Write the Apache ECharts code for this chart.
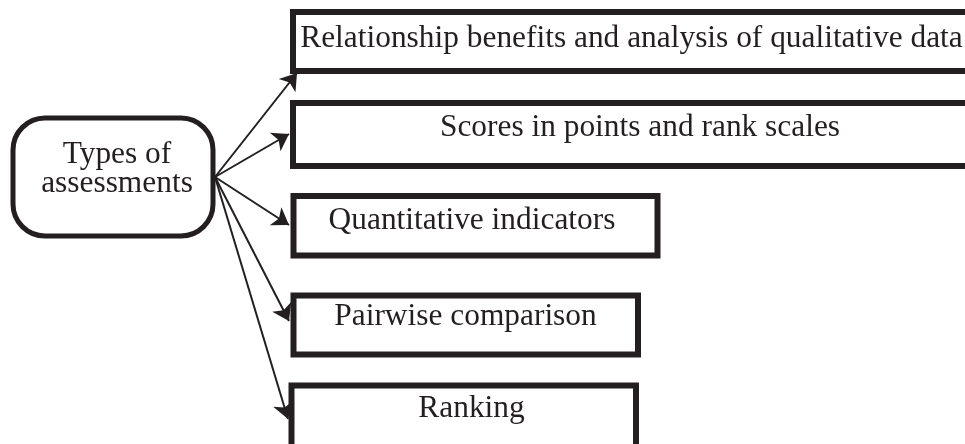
<!DOCTYPE html>
<html>
<head>
<meta charset="utf-8">
<script src="https://cdn.jsdelivr.net/npm/echarts@6/dist/echarts.min.js"></script>
<style>
html,body{margin:0;padding:0;background:#fff;}
#chart{width:965px;height:444px;}
</style>
</head>
<body>
<div id="chart"></div>
<script>
// ---- content ----
const rootLabel = 'Types of\nassessments';
const boxLabels = [
  'Relationship benefits and analysis of qualitative data',
  'Scores in points and rank scales',
  'Quantitative indicators',
  'Pairwise comparison',
  'Ranking'
];

// ---- layout (diagram units = pixels on a 965 x 444 canvas) ----
const rootBox = [13, 118, 213, 236];          // x0, y0, x1, y1
const boxLeft   = [293, 293, 293.5, 293.5, 291.5];
const boxRight  = [1010, 1010, 657.5, 638, 636];
const boxTop    = [12, 103, 196, 295.5, 385.5];
const boxBottom = [71, 166, 255.5, 354.5, 480];
const labelX    = [631.5, 640, 472, 465.5, 471.5];
const labelY    = [39, 128, 220.5, 317, 409];
const rootLabelPos = [117, 169];
const arrowFrom = [215, 177];
const arrowTo   = [[297, 73], [289, 134], [289, 225], [289, 321], [288, 419]];

const ink = '#231f20';
const fontFamily = '"Liberation Serif","Times New Roman",serif';

const chart = echarts.init(document.getElementById('chart'), null, {renderer: 'canvas'});

const boxData = boxLabels.map((t, i) => [boxLeft[i], boxTop[i], boxRight[i], boxBottom[i], labelX[i], labelY[i]]);

chart.setOption({
  animation: false,
  backgroundColor: '#ffffff',
  grid: {left: 0, right: 0, top: 0, bottom: 0},
  xAxis: {type: 'value', min: 0, max: 965, show: false},
  yAxis: {type: 'value', min: 0, max: 444, inverse: true, show: false},
  series: [
    {
      type: 'lines',
      coordinateSystem: 'cartesian2d',
      z: 1,
      symbol: ['none', 'arrow'],
      symbolSize: [12, 16],
      lineStyle: {color: ink, width: 2, opacity: 1, curveness: 0},
      data: arrowTo.map(p => ({coords: [arrowFrom, p]}))
    },
    {
      type: 'custom',
      coordinateSystem: 'cartesian2d',
      z: 2,
      data: boxData,
      renderItem: function (params, api) {
        const p0 = api.coord([api.value(0), api.value(1)]);
        const p1 = api.coord([api.value(2), api.value(3)]);
        const c = api.coord([api.value(4), api.value(5)]);
        return {
          type: 'group',
          children: [
            {
              type: 'rect',
              shape: {x: p0[0], y: p0[1], width: p1[0] - p0[0], height: p1[1] - p0[1]},
              style: {fill: '#ffffff', stroke: ink, lineWidth: 6}
            },
            {
              type: 'text',
              style: {
                text: boxLabels[params.dataIndex],
                x: c[0], y: c[1],
                align: 'center', verticalAlign: 'middle',
                font: '31.4px ' + fontFamily,
                fill: ink
              }
            }
          ]
        };
      }
    },
    {
      type: 'custom',
      coordinateSystem: 'cartesian2d',
      z: 2,
      data: [rootBox],
      renderItem: function (params, api) {
        const p0 = api.coord([api.value(0), api.value(1)]);
        const p1 = api.coord([api.value(2), api.value(3)]);
        const c = api.coord(rootLabelPos);
        return {
          type: 'group',
          children: [
            {
              type: 'rect',
              shape: {x: p0[0], y: p0[1], width: p1[0] - p0[0], height: p1[1] - p0[1], r: 32},
              style: {fill: '#ffffff', stroke: ink, lineWidth: 5}
            },
            {
              type: 'text',
              style: {
                text: rootLabel,
                x: c[0], y: c[1],
                align: 'center', verticalAlign: 'middle',
                font: '31.4px ' + fontFamily,
                lineHeight: 29.5,
                fill: ink
              }
            }
          ]
        };
      }
    }
  ]
});
</script>
</body>
</html>
